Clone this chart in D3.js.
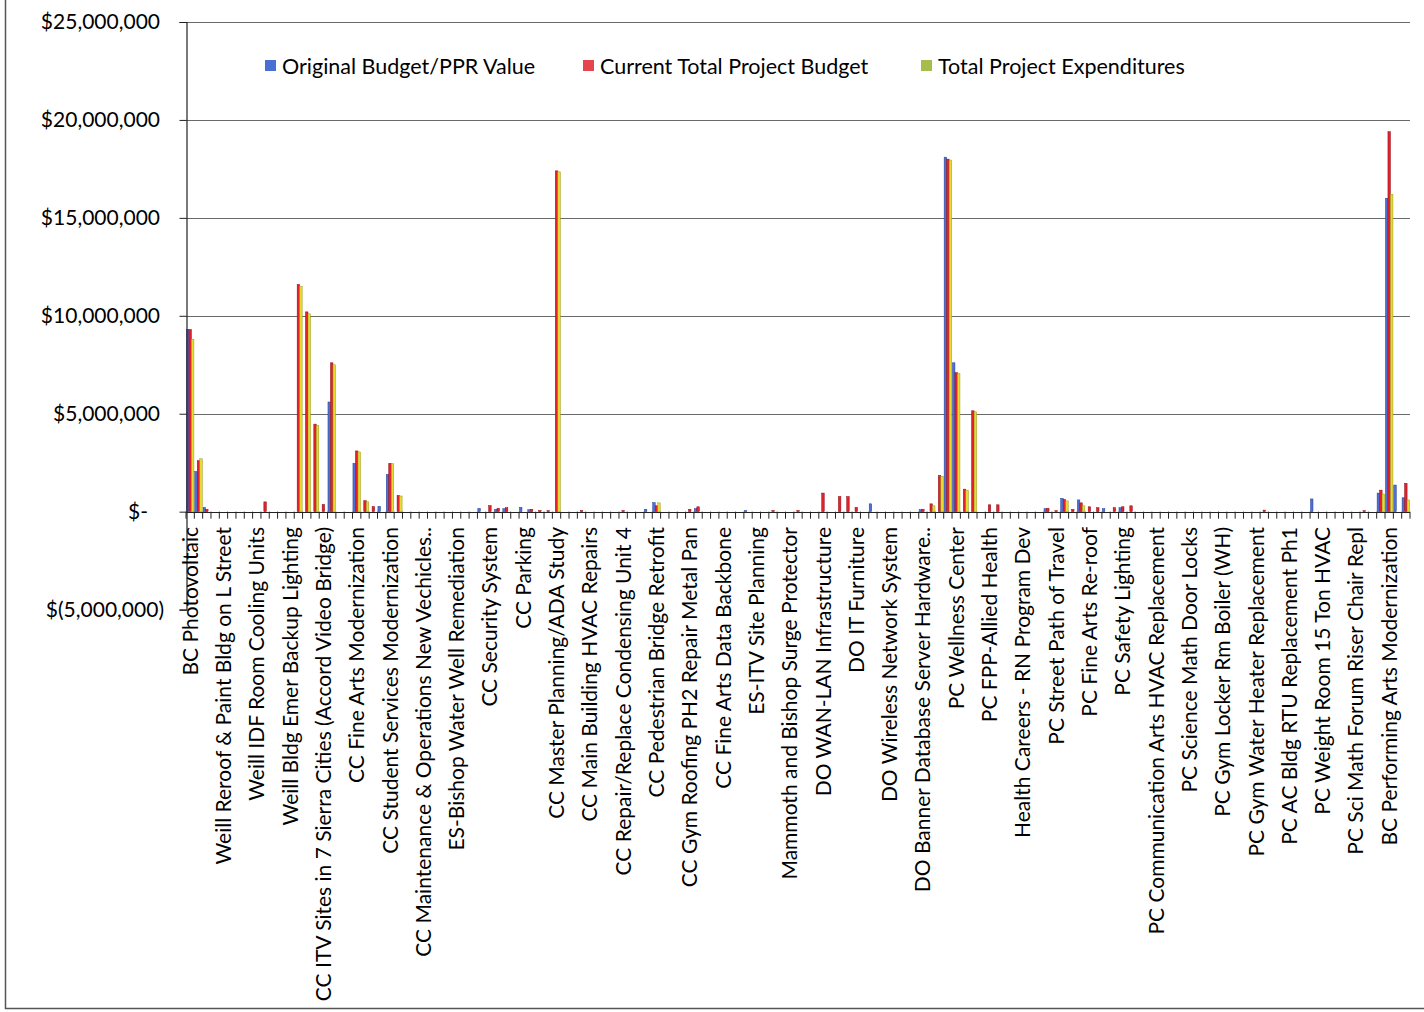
<!DOCTYPE html>
<html>
<head>
<meta charset="utf-8">
<script src="https://cdn.jsdelivr.net/npm/d3@7"></script>
<style>
  body { margin: 0; background: #fff; }
  svg text { font-family: Lato, "Liberation Sans", sans-serif; fill: #000; }
</style>
</head>
<body>
<svg id="chart" width="1424" height="1012"></svg>
<script>
// series names, in legend order
var seriesNames = ['Original Budget/PPR Value', 'Current Total Project Budget', 'Total Project Expenditures'];

// values in millions of dollars, one per project (147 projects, only every 4th is labelled)
var originalBudget = [
  9.3, 2.05, 0.22, 0, 0, 0, 0, 0, 0, 0,
  0, 0, 0, 0, 0, 0, 0, 5.6, 0, 0,
  2.47, 0, 0, 0.27, 1.9, 0, 0, 0, 0, 0,
  0, 0, 0, 0, 0, 0.17, 0, 0.12, 0.15, 0,
  0.22, 0.1, 0, 0, 0, 0, 0, 0, 0, 0,
  0, 0, 0, 0, 0, 0.12, 0.46, 0, 0, 0,
  0, 0.15, 0, 0, 0, 0, 0, 0.05, 0, 0,
  0, 0, 0, 0, 0, 0, 0, 0, 0, 0,
  0, 0, 0.4, 0, 0, 0, 0, 0, 0.1, 0,
  0, 18.1, 7.6, 0, 0, 0, 0, 0, 0, 0,
  0, 0, 0, 0.15, 0, 0.68, 0, 0.6, 0, 0,
  0.15, 0, 0.2, 0, 0, 0, 0, 0, 0, 0,
  0, 0, 0, 0, 0, 0, 0, 0, 0, 0,
  0, 0, 0, 0, 0, 0.65, 0, 0, 0, 0,
  0, 0, 0, 0.95, 16.0, 1.36, 0.71
];

var currentBudget = [
  9.3, 2.6, 0.12, 0, 0, 0, 0, 0, 0, 0.5,
  0, 0, 0, 11.6, 10.2, 4.47, 0.37, 7.6, 0, 0,
  3.1, 0.56, 0.26, 0, 2.47, 0.83, 0, 0, 0, 0,
  0, 0, 0, 0, 0, 0, 0.31, 0.17, 0.2, 0,
  0, 0.12, 0.06, 0.05, 17.4, 0, 0, 0.06, 0, 0,
  0, 0, 0.06, 0, 0, 0, 0.3, 0, 0, 0,
  0.12, 0.25, 0, 0, 0, 0, 0, 0, 0, 0,
  0.06, 0, 0, 0.06, 0, 0, 0.95, 0, 0.77, 0.77,
  0.22, 0, 0, 0, 0, 0, 0, 0, 0.12, 0.4,
  1.85, 18.0, 7.1, 1.15, 5.15, 0, 0.35, 0.35, 0, 0,
  0, 0, 0, 0.17, 0.05, 0.62, 0.12, 0.45, 0.25, 0.2,
  0, 0.2, 0.25, 0.3, 0, 0, 0, 0, 0, 0,
  0, 0, 0, 0, 0, 0, 0, 0, 0, 0.08,
  0, 0, 0, 0, 0, 0, 0, 0, 0, 0,
  0, 0.05, 0, 1.1, 19.4, 0, 1.45
];

var expenditures = [
  8.8, 2.7, 0, 0, 0, 0, 0, 0, 0, 0,
  0, 0, 0, 11.5, 10.1, 4.4, 0, 7.5, 0, 0,
  3.05, 0.5, 0, 0, 2.45, 0.8, 0, 0, 0, 0,
  0, 0, 0, 0, 0, 0, 0, 0, 0, 0,
  0, 0, 0, 0, 17.35, 0, 0, 0, 0, 0,
  0, 0, 0, 0, 0, 0, 0.45, 0, 0, 0,
  0, 0, 0, 0, 0, 0, 0, 0, 0, 0,
  0, 0, 0, 0, 0, 0, 0, 0, 0, 0,
  0, 0, 0, 0, 0, 0, 0, 0, 0, 0.3,
  1.8, 17.95, 7.05, 1.1, 5.1, 0, 0, 0, 0, 0,
  0, 0, 0, 0, 0, 0.55, 0, 0.3, 0, 0,
  0, 0, 0, 0, 0, 0, 0, 0, 0, 0,
  0, 0, 0, 0, 0, 0, 0, 0, 0, 0,
  0, 0, 0, 0, 0, 0, 0, 0, 0, 0,
  0, 0, 0, 0.9, 16.2, 0, 0.6
];

// visible category labels (every 4th project)
var tickLabels = [
  'BC Photovoltaic',
  'Weill Reroof & Paint Bldg on L Street',
  'Weill IDF Room Cooling Units',
  'Weill Bldg Emer Backup Lighting',
  'CC ITV Sites in 7 Sierra Cities (Accord Video Bridge)',
  'CC Fine Arts Modernization',
  'CC Student Services Modernization',
  'CC Maintenance & Operations New Vechicles..',
  'ES-Bishop Water Well Remediation',
  'CC Security System',
  'CC Parking',
  'CC Master Planning/ADA Study',
  'CC Main Building HVAC Repairs',
  'CC Repair/Replace Condensing Unit 4',
  'CC Pedestrian Bridge Retrofit',
  'CC Gym Roofing PH2 Repair Metal Pan',
  'CC Fine Arts Data Backbone',
  'ES-ITV Site Planning',
  'Mammoth and Bishop Surge Protector',
  'DO WAN-LAN Infrastructure',
  'DO IT Furniture',
  'DO Wireless Network System',
  'DO Banner Database Server Hardware..',
  'PC Wellness Center',
  'PC FPP-Allied Health',
  'Health Careers - RN Program Dev',
  'PC Street Path of Travel',
  'PC Fine Arts Re-roof',
  'PC Safety Lighting',
  'PC Communication Arts HVAC Replacement',
  'PC Science Math Door Locks',
  'PC Gym Locker Rm Boiler (WH)',
  'PC Gym Water Heater Replacement',
  'PC AC Bldg RTU Replacement Ph1',
  'PC Weight Room 15 Ton HVAC',
  'PC Sci Math Forum Riser Chair Repl',
  'BC Performing Arts Modernization'
];

var yTicks = [-5, 0, 5, 10, 15, 20, 25];

var barColors = ['#4c6fd8', '#e3202c', '#e4dc2e'];
var barStrokes = ['#27408f', '#8e1016', '#9c9420'];
var legendColors = ['#4a6fd2', '#e5454d', '#a6bd4c'];

var svg = d3.select('#chart');
var plot = { left: 186, right: 1410, top: 22, bottom: 609.6 };
var labelEvery = 4;

var series = [originalBudget, currentBudget, expenditures];
var categories = d3.range(originalBudget.length);

var x = d3.scaleBand()
  .domain(categories)
  .range([plot.left, plot.right])
  .paddingInner(0.1)
  .paddingOuter(0.05);

var xSeries = d3.scaleBand()
  .domain(d3.range(series.length))
  .range([0, x.bandwidth()]);

var y = d3.scaleLinear()
  .domain([-5, 25])
  .range([plot.bottom, plot.top]);

// outer chart border (left and bottom edges show in the frame)
svg.append('path')
  .attr('d', 'M5.5,-2V1008.5H1426')
  .attr('fill', 'none')
  .attr('stroke', '#555')
  .attr('stroke-width', 1.5);

// gridlines
svg.append('g')
  .selectAll('line')
  .data(yTicks.filter(function (d) { return d > 0; }))
  .join('line')
  .attr('x1', plot.left)
  .attr('x2', plot.right)
  .attr('y1', function (d) { return Math.round(y(d)) + 0.5; })
  .attr('y2', function (d) { return Math.round(y(d)) + 0.5; })
  .attr('stroke', '#6a6a6a')
  .attr('stroke-width', 1.2);

// bars
var groups = svg.append('g')
  .selectAll('g')
  .data(series)
  .join('g')
  .attr('fill', function (d, i) { return barColors[i]; })
  .attr('stroke', function (d, i) { return barStrokes[i]; })
  .attr('stroke-width', 0.5);

groups.each(function (values, s) {
  d3.select(this).selectAll('rect')
    .data(values.map(function (v, i) { return { i: i, v: v }; }).filter(function (d) { return d.v !== 0; }))
    .join('rect')
    .attr('x', function (d) { return x(d.i) + xSeries(s); })
    .attr('width', xSeries.bandwidth())
    .attr('y', function (d) { return y(Math.max(0, d.v)); })
    .attr('height', function (d) { return Math.abs(y(d.v) - y(0)); });
});

// y axis
var yAxis = d3.axisLeft(y)
  .tickValues(yTicks)
  .tickSize(7)
  .tickFormat('');

svg.append('g')
  .attr('transform', 'translate(' + (plot.left + 0.5) + ',0)')
  .call(yAxis)
  .call(function (g) {
    g.select('.domain').attr('stroke', '#222').attr('stroke-width', 1.2);
    g.selectAll('.tick line').attr('stroke', '#222');
  });

// accounting style money labels
function moneyLabel(v) {
  if (v === 0) return '$-';
  if (v < 0) return '$(' + d3.format(',')(-v * 1e6) + ')';
  return '$' + d3.format(',')(v * 1e6);
}

svg.append('g')
  .selectAll('text')
  .data(yTicks)
  .join('text')
  .attr('x', function (d) { return d === 0 ? 148 : (d < 0 ? 164 : 160); })
  .attr('y', function (d) { return y(d); })
  .attr('dy', '0.35em')
  .attr('text-anchor', 'end')
  .style('font-size', '21px')
  .text(moneyLabel);

// category axis along zero
var xAxis = d3.axisBottom(x)
  .tickSize(0)
  .tickFormat('');

svg.append('g')
  .attr('transform', 'translate(0,' + (Math.round(y(0)) + 0.5) + ')')
  .call(xAxis)
  .call(function (g) {
    g.select('.domain').attr('d', 'M' + plot.left + ',0H' + plot.right).attr('stroke', '#222').attr('stroke-width', 1.2);
  });

// ticks on category boundaries
var step = (plot.right - plot.left) / categories.length;
svg.append('g')
  .selectAll('line')
  .data(d3.range(categories.length + 1))
  .join('line')
  .attr('x1', function (k) { return plot.left + k * step; })
  .attr('x2', function (k) { return plot.left + k * step; })
  .attr('y1', y(0))
  .attr('y2', y(0) + 7)
  .attr('stroke', '#222');

// rotated category labels
svg.append('g')
  .selectAll('text')
  .data(tickLabels)
  .join('text')
  .attr('transform', function (d, i) {
    var cx = x(i * labelEvery) + x.bandwidth() / 2;
    return 'translate(' + cx + ',' + 527 + ') rotate(-90)';
  })
  .attr('dy', '0.36em')
  .attr('text-anchor', 'end')
  .style('font-size', '21px')
  .text(function (d) { return d; });

// legend
var legendX = [265, 583, 921];
var legend = svg.append('g')
  .selectAll('g')
  .data(seriesNames)
  .join('g')
  .attr('transform', function (d, i) { return 'translate(' + legendX[i] + ',60)'; });

legend.append('rect')
  .attr('width', 11)
  .attr('height', 11)
  .attr('fill', function (d, i) { return legendColors[i]; });

legend.append('text')
  .attr('x', 17)
  .attr('y', 6)
  .attr('dy', '0.35em')
  .style('font-size', '21.5px')
  .text(function (d) { return d; });
</script>
</body>
</html>
